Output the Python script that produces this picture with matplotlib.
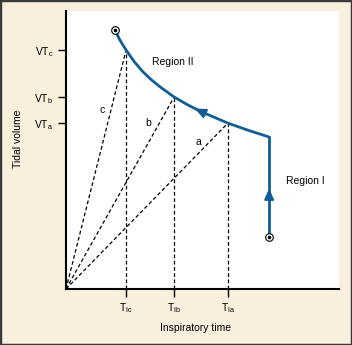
import numpy as np
import matplotlib.pyplot as plt
from matplotlib.patches import Rectangle

plt.rcParams['font.family'] = ['Liberation Sans', 'DejaVu Sans']
plt.rcParams['mathtext.fontset'] = 'custom'
plt.rcParams['mathtext.rm'] = 'Liberation Sans'
plt.rcParams['mathtext.it'] = 'Liberation Sans'

# 吸气时间 / 潮气量曲线 (Region II)
curve_t = [1.79, 1.99, 2.20, 2.50, 2.80, 3.10, 3.45, 3.96, 4.45, 4.95, 5.45, 5.93, 6.68, 7.44]
curve_v = [9.32, 8.93, 8.60, 8.18, 7.835, 7.55, 7.27, 6.91, 6.63, 6.38, 6.17, 5.97, 5.71, 5.47]

# Region I 起点
start_v = 1.87

# 三个工作点 a, b, c
pt_names = ['a', 'b', 'c']
pt_t = [5.93, 3.96, 2.20]
pt_v = [5.97, 6.91, 8.60]
x_ticklabels = [r'$\mathregular{T_{Ia}}$', r'$\mathregular{T_{Ib}}$', r'$\mathregular{T_{Ic}}$']
y_ticklabels = [r'$\mathregular{VT_a}$', r'$\mathregular{VT_b}$', r'$\mathregular{VT_c}$']

blue = '#115d95'
beige = '#f8f0dc'

fig = plt.figure(figsize=(3.52, 3.45), dpi=100, facecolor=beige)
fig.patches.append(Rectangle((0, 0), 1, 1, transform=fig.transFigure,
                             fill=False, edgecolor='#3a3a3a', linewidth=2.5))
ax = fig.add_axes([0.1875, 0.1623, 0.7756, 0.8055])
ax.set_facecolor('white')
ax.set_xlim(0, 10)
ax.set_ylim(0, 10)

for s in ['top', 'right']:
    ax.spines[s].set_visible(False)
for s in ['left', 'bottom']:
    ax.spines[s].set_linewidth(1.5)

# 虚线: 原点到各点, 以及竖直线
for t, v in zip(pt_t, pt_v):
    ax.plot([0, t], [0, v], color='black', lw=0.9, ls=(0, (3, 2)))
    ax.plot([t, t], [0, v], color='black', lw=0.9, ls=(0, (3, 2)))

# 曲线
ax.plot(curve_t, curve_v, color=blue, lw=2, solid_capstyle='butt', solid_joinstyle='round')
ax.plot([curve_t[-1], curve_t[-1]], [start_v, curve_v[-1]], color=blue, lw=2)

# 箭头
head = dict(arrowstyle='-|>,head_length=0.8,head_width=0.35', color=blue, lw=1.5,
            mutation_scale=8, shrinkA=0, shrinkB=0)
ta0, ta1 = 5.05, 4.72
ax.annotate('', xy=(ta1, np.interp(ta1, curve_t, curve_v)),
            xytext=(ta0, np.interp(ta0, curve_t, curve_v)), arrowprops=head)
ax.annotate('', xy=(curve_t[-1], 3.62), xytext=(curve_t[-1], 3.2), arrowprops=head)

# 端点圆圈
for t, v in [(curve_t[0], curve_v[0]), (curve_t[-1], start_v)]:
    ax.plot(t, v, marker='o', ms=5.5, mfc='white', mec='black', mew=0.8, zorder=5)
    ax.plot(t, v, marker='o', ms=1.6, color='black', zorder=6)

ax.text(1.32, 6.44, 'c', fontsize=7.5, ha='center', va='center')
ax.text(3.00, 5.97, 'b', fontsize=7.5, ha='center', va='center')
ax.text(4.84, 5.29, 'a', fontsize=7.5, ha='center', va='center')
ax.text(3.15, 8.17, 'Region II', fontsize=7.5, ha='left', va='center')
ax.text(8.06, 3.88, 'Region I', fontsize=7.5, ha='left', va='center')

ax.set_xticks(pt_t)
ax.set_xticklabels(x_ticklabels, fontsize=7.5)
ax.set_yticks(pt_v)
ax.set_yticklabels(y_ticklabels, fontsize=7.5)
ax.tick_params(direction='out', length=6, width=1, pad=3)

fig.text(196 / 352, 1 - 328 / 345, 'Inspiratory time', fontsize=7.5, ha='center', va='center')
fig.text(18 / 352, 1 - 139 / 345, 'Tidal volume', fontsize=7.5, ha='center', va='center',
         rotation=90)

fig.savefig('out.png', dpi=100, facecolor=beige)
